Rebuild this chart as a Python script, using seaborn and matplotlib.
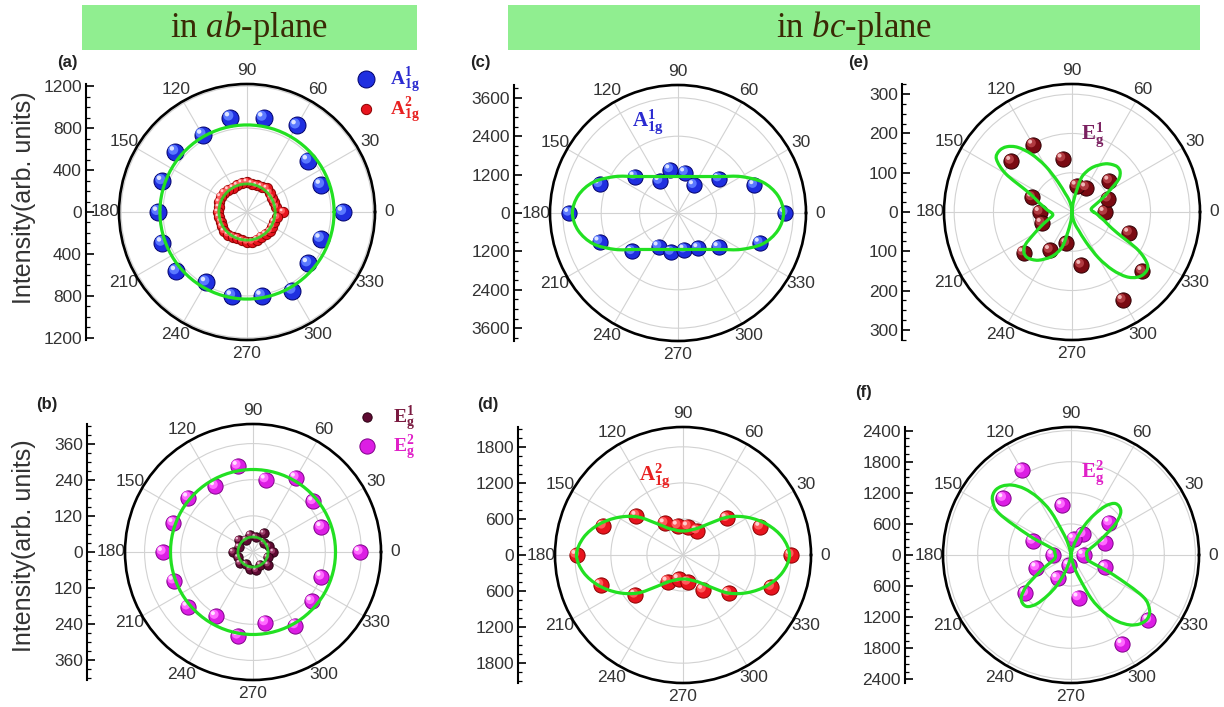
import numpy as np
import pandas as pd
import matplotlib
matplotlib.use("Agg")
import matplotlib.pyplot as plt
import matplotlib.transforms as mtransforms
from matplotlib.ticker import FixedLocator, AutoMinorLocator, FuncFormatter
from matplotlib.patches import Rectangle, PathPatch
from matplotlib.path import Path
import seaborn as sns

sns.set_theme(style="white")
plt.rcParams["font.family"] = ["Liberation Sans", "DejaVu Sans"]
plt.rcParams["mathtext.fontset"] = "custom"
plt.rcParams["mathtext.rm"] = "Liberation Serif"
plt.rcParams["mathtext.it"] = "Liberation Serif:italic"
plt.rcParams["mathtext.bf"] = "Liberation Serif:bold"

# ---------------------------------------------------------------- data
ang20 = np.arange(0, 360, 20)          # measured polarization angles (deg)
ang10 = np.arange(0, 360, 10)

# (a) ab-plane, A1g modes
a_A1g1 = [917, 752, 762, 952, 912, 914, 848, 893, 858, 845, 858, 880, 775, 813, 813, 867, 762, 749]
a_A1g2 = [345, 285, 275, 270, 285, 295, 280, 270, 275, 285, 280, 270, 265, 275, 285, 290, 280, 270,
          275, 270, 265, 275, 285, 280, 270, 265, 275, 285, 290, 280, 270, 275, 285, 280, 275, 295]
a_fit_A1g1 = 830
a_fit_A1g2 = 268

# (b) ab-plane, Eg modes
b_Eg1 = [68, 55, 48, 72, 50, 58, 47, 62, 50, 66, 52, 57, 47, 56, 62, 49, 66, 52]
b_Eg2 = [355, 242, 261, 285, 244, 290, 252, 281, 281, 299, 280, 283, 246, 283, 238, 282, 255, 242]
b_fit_Eg1 = 50
b_fit_Eg2 = 274

# (c) bc-plane, A1g^1  (fit curve read every 10 deg over one 180-deg period)
c_A1g1 = [3340, 2540, 1670, 1000, 1285, 1380, 1150, 1770, 2610, 3400, 2610, 1870, 1210, 1240, 1165, 1270, 1660, 2720]
c_fit_half = [3300, 3165, 2818, 2275, 1773, 1488, 1316, 1213, 1158, 1140, 1158, 1213, 1316, 1488, 1773, 2275, 2818, 3165]

# (d) bc-plane, A1g^2
d_A1g2 = [1795, 1369, 949, 466, 481, 495, 607, 1011, 1415, 1772, 1460, 1034, 513, 408, 457, 669, 989, 1563]
d_fit_half = [1772, 1680, 1490, 1250, 985, 685, 520, 450, 410, 400, 410, 450, 520, 685, 985, 1250, 1490, 1680]

# (e) bc-plane, Eg^1  (fit curve read every 5 deg over one 180-deg period)
e_Eg1 = [83, 98, 124, 72, 68, 138, 198, 202, 108, 82, 82, 161, 112, 81, 137, 259, 234, 155]
e_fit_half = [55, 50, 50, 57, 70, 88, 112, 145, 160, 163, 158, 150, 138, 126, 110, 88, 40, 12,
              0, 8, 20, 35, 50, 85, 135, 180, 215, 235, 242, 235, 195, 128, 100, 85, 72, 64]

# (f) bc-plane, Eg^2
f_Eg2 = [244, 694, 969, 457, 315, 973, 1897, 1704, 783, 345, 710, 1148, 520, 202, 835, 1984, 1952, 703]
f_fit_half = [300, 300, 310, 340, 420, 560, 760, 1050, 1250, 1320, 1300, 1150, 900, 650, 380, 170, 50, 10,
              0, 10, 60, 250, 480, 930, 1280, 1560, 1760, 1880, 1920, 1850, 1600, 900, 420, 330, 320, 310]

theta_labels = ["0", "30", "60", "90", "120", "150", "180", "210", "240", "270", "300", "330"]
ylabel_text = "Intensity(arb. units)"

# ---------------------------------------------------------------- style
W, H = 1224, 707
R = 128
GREEN = "#22e022"
fig = plt.figure(figsize=(W / 100, H / 100), dpi=100)
fig.patch.set_facecolor("white")

SPH = {
    "blue":    dict(base="#1f2fe0", dark="#00006a", mid="#5a78ff", light="#dde4ff"),
    "red":     dict(base="#e8141e", dark="#8a0000", mid="#ff5a5a", light="#ffd0d0"),
    "magenta": dict(base="#dc1ee4", dark="#80008a", mid="#ff6aff", light="#ffe0ff"),
    "maroon":  dict(base="#7a0a12", dark="#300004", mid="#b03a40", light="#f0b8b8"),
    "plum":    dict(base="#5e0a32", dark="#2a0012", mid="#9a3a66", light="#e8b8d0"),
}


def px2fig(x, y):
    return x / W, 1 - y / H


def spheres(ax, ang_deg, vals, cname, size):
    c = SPH[cname]
    df = pd.DataFrame({"theta": np.deg2rad(ang_deg), "r": vals})
    sns.scatterplot(data=df, x="theta", y="r", ax=ax, s=size, color=c["base"],
                    edgecolor=c["dark"], linewidth=0.7, zorder=3, legend=False)
    handle = ax.collections[-1]
    d = np.sqrt(size)
    t1 = mtransforms.offset_copy(ax.transData, fig=fig, x=-0.12 * d, y=0.12 * d, units="points")
    sns.scatterplot(data=df, x="theta", y="r", ax=ax, s=size * 0.35, color=c["mid"],
                    edgecolor="none", linewidth=0, zorder=3.1, legend=False, transform=t1)
    t2 = mtransforms.offset_copy(ax.transData, fig=fig, x=-0.2 * d, y=0.2 * d, units="points")
    sns.scatterplot(data=df, x="theta", y="r", ax=ax, s=size * 0.07, color=c["light"],
                    edgecolor="none", linewidth=0, zorder=3.2, legend=False, transform=t2)
    return handle


def circle_fit(ax, radius, lw=2.3, alpha=1.0):
    th = np.arange(0, 361, 2)
    df = pd.DataFrame({"theta": np.deg2rad(th), "r": np.full(th.shape, float(radius))})
    sns.lineplot(data=df, x="theta", y="r", ax=ax, sort=False, estimator=None,
                 color=GREEN, lw=lw, alpha=alpha, zorder=5)


def periodic_fit(ax, half, step, lw=2.3):
    """Closed smooth (spline-connected) line through the read fit values."""
    vals = np.concatenate([half, half])
    th = np.deg2rad(np.arange(0, 360, step))
    ax.apply_aspect()
    P = ax.transData.transform(np.column_stack([th, vals]))
    n = len(P)
    verts, codes = [P[0]], [Path.MOVETO]
    for i in range(n):
        p0, p1, p2, p3 = P[i - 1], P[i], P[(i + 1) % n], P[(i + 2) % n]
        verts += [p1 + (p2 - p0) / 6.0, p2 - (p3 - p1) / 6.0, p2]
        codes += [Path.CURVE4] * 3
    fig.add_artist(PathPatch(Path(verts, codes), facecolor="none", edgecolor=GREEN, lw=lw,
                             transform=mtransforms.IdentityTransform(), zorder=5,
                             capstyle="round", joinstyle="round"))


def make_panel(cx, cy, axis_x, rmax, step, label, lab_xy, ylab_y=None):
    ax = fig.add_axes([(cx - R) / W, (H - cy - R) / H, 2 * R / W, 2 * R / H], projection="polar")
    ax.set_facecolor("none")
    ax.set_ylim(0, rmax)
    rt = np.arange(step, rmax + 1e-6, step)
    ax.set_yticks(rt)
    ax.set_yticklabels([])
    ax.set_thetagrids(np.arange(0, 360, 30), labels=theta_labels)
    ax.xaxis.set_minor_locator(FixedLocator(np.deg2rad(np.arange(15, 360, 30))))
    ax.tick_params(axis="x", which="major", direction="in", length=6, width=1.2, pad=3,
                   labelsize=12.5, labelcolor="#333333", color="black")
    ax.tick_params(axis="x", which="minor", direction="in", length=3, width=1.0, color="black")
    ax.grid(True, color="#d2d2d2", lw=0.8)
    ax.spines["polar"].set_linewidth(1.9)
    ax.spines["polar"].set_color("black")

    # left linear intensity axis
    ay = fig.add_axes([axis_x / W, (H - cy - R) / H, 0.0008, 2 * R / H])
    ay.set_facecolor("none")
    ay.set_ylim(-rmax, rmax)
    nmax = int(rmax // step)
    ay.set_yticks(np.arange(-nmax, nmax + 1) * step)
    ay.yaxis.set_minor_locator(AutoMinorLocator(4))
    ay.yaxis.set_major_formatter(FuncFormatter(lambda v, p: f"{abs(v):g}"))
    ay.set_xticks([])
    for s in ["top", "right", "bottom"]:
        ay.spines[s].set_visible(False)
    ay.spines["left"].set_linewidth(1.5)
    ay.spines["left"].set_color("black")
    ay.tick_params(axis="y", which="major", direction="in", length=6, width=1.2, left=True,
                   labelsize=12.5, labelcolor="#333333", color="black", pad=3)
    ay.tick_params(axis="y", which="minor", direction="in", length=3, width=0.9, left=True, color="black")
    if ylab_y is not None:
        ay.set_ylabel(ylabel_text, fontsize=18, color="#333333")
        ay.yaxis.set_label_coords(*px2fig(36, ylab_y), transform=fig.transFigure)
    fx, fy = px2fig(*lab_xy)
    fig.text(fx, fy, label, fontsize=12, fontweight="bold", color="#222222", ha="center", va="center")
    return ax


# ---------------------------------------------------------------- banners
for x0, x1, txt in [(82, 417, r"in $ab$-plane"), (508, 1200, r"in $bc$-plane")]:
    fig.add_artist(Rectangle(px2fig(x0, 50), (x1 - x0) / W, 45 / H, transform=fig.transFigure,
                             facecolor="#90ee90", edgecolor="none", zorder=0))
    fig.text(*px2fig((x0 + x1) / 2, 28), txt, fontsize=25, family="Liberation Serif",
             color="#3a2a05", ha="center", va="center")

# ---------------------------------------------------------------- (a)
axa = make_panel(247, 212, 86, 1220, 400, "(a)", (67, 62), ylab_y=198)
h1 = spheres(axa, ang20, a_A1g1, "blue", 150)
h2 = spheres(axa, ang10, a_A1g2, "red", 55)
circle_fit(axa, a_fit_A1g1)
circle_fit(axa, a_fit_A1g2, lw=2.0, alpha=0.85)
leg = axa.legend([h1, h2], [r"$\mathbf{A}_{\mathbf{1g}}^{\mathbf{1}}$", r"$\mathbf{A}_{\mathbf{1g}}^{\mathbf{2}}$"],
                 loc="center left", bbox_to_anchor=px2fig(337, 95), bbox_transform=fig.transFigure,
                 frameon=False, fontsize=14, handletextpad=0.2, labelspacing=0.0, borderpad=0)
for t, col in zip(leg.get_texts(), ["#2a2ad0", "#e82020"]):
    t.set_color(col)

# ---------------------------------------------------------------- (b)
axb = make_panel(253, 552, 87, 425, 120, "(b)", (47, 405), ylab_y=546)
g2 = spheres(axb, ang20, b_Eg2, "magenta", 120)
g1 = spheres(axb, ang20, b_Eg1, "plum", 45)
circle_fit(axb, b_fit_Eg2)
circle_fit(axb, b_fit_Eg1, lw=2.0, alpha=0.85)
leg = axb.legend([g1, g2], [r"$\mathbf{E}_{\mathbf{g}}^{\mathbf{1}}$", r"$\mathbf{E}_{\mathbf{g}}^{\mathbf{2}}$"],
                 loc="center left", bbox_to_anchor=px2fig(338, 433), bbox_transform=fig.transFigure,
                 frameon=False, fontsize=14, handletextpad=0.35, labelspacing=0.0, borderpad=0)
for t, col in zip(leg.get_texts(), ["#7a1a40", "#e020c8"]):
    t.set_color(col)

# ---------------------------------------------------------------- (c)
axc = make_panel(678, 213, 514, 4000, 1200, "(c)", (480, 62))
spheres(axc, ang20, c_A1g1, "blue", 120)
periodic_fit(axc, c_fit_half, 10)
fig.text(*px2fig(648, 122), r"$\mathbf{A}_{\mathbf{1g}}^{\mathbf{1}}$", fontsize=15, color="#2a2ad0",
         ha="center", va="center")

# ---------------------------------------------------------------- (d)
axd = make_panel(683, 555, 518, 2130, 600, "(d)", (488, 405))
spheres(axd, ang20, d_A1g2, "red", 120)
periodic_fit(axd, d_fit_half, 10)
fig.text(*px2fig(655, 476), r"$\mathbf{A}_{\mathbf{1g}}^{\mathbf{2}}$", fontsize=15, color="#e82020",
         ha="center", va="center")

# ---------------------------------------------------------------- (e)
axe = make_panel(1072, 212, 902, 326, 100, "(e)", (858, 62))
spheres(axe, ang20, e_Eg1, "maroon", 120)
periodic_fit(axe, e_fit_half, 5)
fig.text(*px2fig(1093, 135), r"$\mathbf{E}_{\mathbf{g}}^{\mathbf{1}}$", fontsize=15, color="#7a2060",
         ha="center", va="center")

# ---------------------------------------------------------------- (f)
axf = make_panel(1071, 555, 905, 2470, 600, "(f)", (863, 393))
spheres(axf, ang20, f_Eg2, "magenta", 120)
periodic_fit(axf, f_fit_half, 5)
fig.text(*px2fig(1093, 473), r"$\mathbf{E}_{\mathbf{g}}^{\mathbf{2}}$", fontsize=15, color="#e020c8",
         ha="center", va="center")

for ax in [axa, axb, axc, axd, axe, axf]:
    ax.set_xlabel("")
    ax.set_ylabel("")

fig.savefig("out.png", dpi=100, facecolor="white")
